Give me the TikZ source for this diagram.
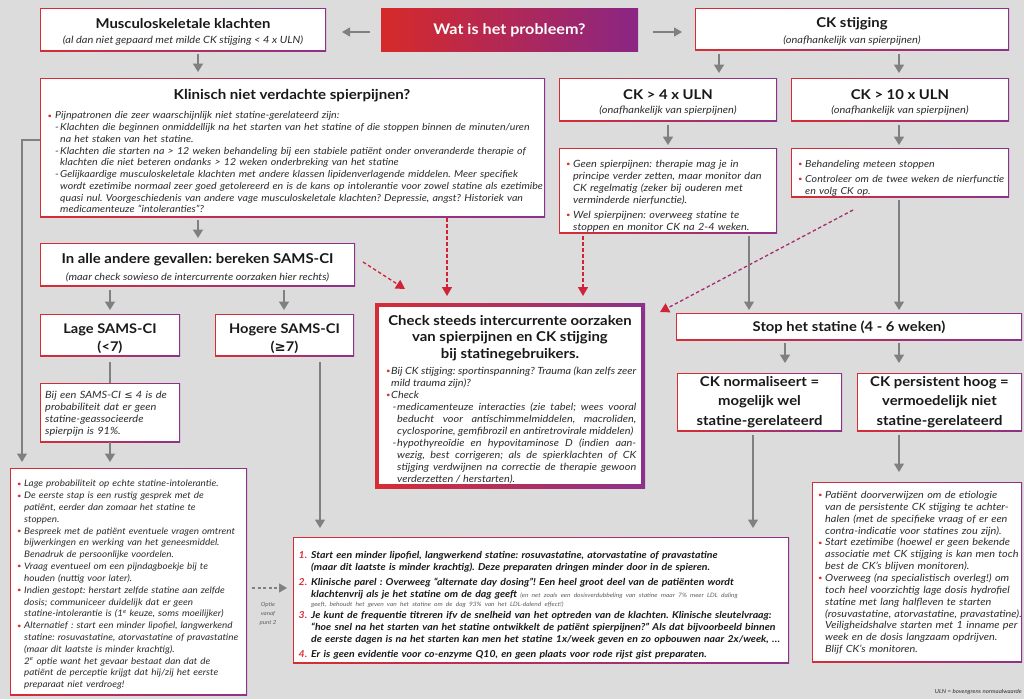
\documentclass[tikz,border=0pt]{standalone}
\usepackage{fontspec}
\setmainfont{Lato}[FakeStretch=1.1]
\newfontfamily\symf{DejaVu Sans}
\usetikzlibrary{arrows.meta,calc}
\frenchspacing
\definecolor{bgc}{RGB}{220,220,220}
\definecolor{cR}{RGB}{214,45,52}
\definecolor{cP}{RGB}{140,50,140}
\definecolor{tR}{RGB}{214,42,42}
\definecolor{tP}{RGB}{138,38,132}
\definecolor{ag}{RGB}{128,128,128}
\definecolor{txt}{RGB}{25,25,25}
\definecolor{itx}{RGB}{45,45,45}
\definecolor{dred}{RGB}{208,35,55}
\definecolor{dpur}{RGB}{165,45,110}
\definecolor{bred}{RGB}{215,50,55}
\definecolor{smallg}{RGB}{95,95,95}
\newcommand\mkbox[5]{\node[bx, minimum width={(#4-#2)*1pt}, minimum height={(#5-#3)*1pt}] (#1) at (#2,#3) {};}
\newcommand\gframe[2][1.4pt]{%
  \shade[left color=cR, right color=cP] (#2.north west) rectangle (#2.south east);
  \fill[white] ([shift={(#1,-#1)}]#2.north west) rectangle ([shift={(-#1,#1)}]#2.south east);}
\newcommand\bul{\textcolor{bred}{\raisebox{0.6pt}{\fontsize{7}{7}\selectfont\textbullet}}}
\newcommand\bit[2][7pt]{\par\hangindent=#1\hangafter=1\noindent\makebox[#1][l]{\bul}#2}
\newcommand\dit[3]{\par\hangindent=\dimexpr#1+#2\relax\hangafter=1\noindent\hspace*{#1}\makebox[#2][l]{-}#3}
\newcommand\nit[2]{\par\hangindent=12.5pt\hangafter=1\noindent\makebox[12.5pt][l]{\textcolor{bred}{#1}}#2}
\newcommand\psk[1]{\setlength\parskip{#1}}
\tikzset{
  bx/.style={anchor=north west, inner sep=0pt, outer sep=0pt},
  hd/.style={font=\bfseries\fontsize{13.5}{16}\selectfont, text=txt, inner sep=0pt},
  sub/.style={font=\itshape\fontsize{10}{12}\selectfont, text=itx, inner sep=0pt},
  body/.style={anchor=north west, inner sep=0pt, text=itx},
  garrow/.style={draw=ag, line width=1.8pt, -{Triangle[length=8.5pt,width=10pt]}},
  harrow/.style={draw=ag, line width=1.3pt, -{Triangle[length=8pt,width=9pt]}},
  larrow/.style={draw=ag, line width=1.3pt, -{Triangle[length=8.5pt,width=10pt]}},
  gline/.style={draw=ag, line width=1.4pt},
  rdash/.style={draw=dred, line width=1.3pt, dash pattern=on 3.5pt off 2.5pt, -{Triangle[length=9pt,width=10pt]}},
  pdash/.style={draw=dpur, line width=1.3pt, dash pattern=on 3.5pt off 2.5pt, -{Triangle[length=9pt,width=10pt,color=dred]}},
  gdash/.style={draw=ag, line width=1.2pt, dash pattern=on 3pt off 2.5pt, -{Triangle[length=8pt,width=9pt]}},
}
\begin{document}
\frenchspacing
\begin{tikzpicture}[x=1pt,y=-1pt]
\useasboundingbox (0,0) rectangle (1024,699);
% ---------- boxes (named, invisible) ----------
\mkbox{mus}{40}{8}{326}{51}
\mkbox{wat}{381}{8}{638}{51}
\mkbox{ckst}{695}{8}{1009}{50}
\mkbox{ckf}{559}{78}{777}{121}
\mkbox{ckt}{791}{78}{1009}{121}
\mkbox{ckft}{559}{148}{777}{233}
\mkbox{cktt}{791}{148}{1009}{197}
\mkbox{klin}{40}{78}{545}{217}
\mkbox{alle}{40}{243}{355}{286}
\mkbox{lage}{40}{314}{180}{356}
\mkbox{hog}{215}{314}{354}{356}
\mkbox{bij}{40}{383}{180}{442}
\mkbox{chk}{375}{303}{645}{488}
\mkbox{stop}{676}{313}{1022}{340}
\mkbox{norm}{677}{373}{842}{431}
\mkbox{pers}{857}{373}{1022}{431}
\mkbox{ll}{10}{468}{247}{695}
\mkbox{num}{293}{537}{789}{663}
\mkbox{br}{812}{482}{1022}{662}
% ---------- background and frames ----------
\fill[bgc] (0,0) rectangle (1024,699);
\foreach \nm in {mus,ckst,ckf,ckt,ckft,cktt,klin,alle,lage,hog,bij,stop,norm,pers,ll,num,br} {\gframe{\nm}}
\gframe[3.6pt]{chk}
\shade[left color=tR, right color=tP] (wat.north west) rectangle (wat.south east);
% ---------- texts ----------
\node[hd] (musH) at (183,24) {Musculoskeletale klachten};
\node[sub] (musS) at (183,41) {(al dan niet gepaard met milde CK stijging < 4 x ULN)};
\node[hd, font=\bfseries\fontsize{14.7}{17}\selectfont, text=white] (watH) at (509.5,30) {Wat is het probleem?};
\node[hd] (ckstH) at (852,24) {CK stijging};
\node[sub] (ckstS) at (852,41) {(onafhankelijk van spierpijnen)};
\node[hd] (ckfH) at (668,95) {CK > 4 x ULN};
\node[sub] (ckfS) at (668,111) {(onafhankelijk van spierpijnen)};
\node[hd] (cktH) at (900,95) {CK > 10 x ULN};
\node[sub] (cktS) at (900,111) {(onafhankelijk van spierpijnen)};
\node[body, text width=230pt, font=\itshape\fontsize{9.95}{12}\selectfont] (ckftB) at (566,155.3) {%
\bit{Geen spierpijnen: therapie mag je in\newline principe verder zetten, maar monitor dan\newline CK regelmatig (zeker bij ouderen met\newline verminderde nierfunctie).}\psk{3pt}
\bit{Wel spierpijnen: overweeg statine te\newline stoppen en monitor CK na 2-4 weken.}\par};
\node[body, text width=230pt, font=\itshape\fontsize{9.7}{12}\selectfont] (cktB) at (798,155.3) {%
\bit{Behandeling meteen stoppen}\psk{3pt}
\bit{Controleer om de twee weken de nierfunctie\newline en volg CK op.}\par};
\node[hd, font=\bfseries\fontsize{13.7}{16}\selectfont] (klinH) at (292,96) {Klinisch niet verdachte spierpijnen?};
\node[body, text width=540pt, font=\itshape\fontsize{9.65}{11.75}\selectfont] (klinB) at (47.5,106.8) {%
\bit[7.5pt]{Pijnpatronen die zeer waarschijnlijk niet statine-gerelateerd zijn:}
\dit{7.5pt}{5pt}{Klachten die beginnen onmiddellijk na het starten van het statine of die stoppen binnen de minuten/uren\newline na het staken van het statine.}
\dit{7.5pt}{5pt}{Klachten die starten na > 12 weken behandeling bij een stabiele patiënt onder onveranderde therapie of\newline klachten die niet beteren ondanks > 12 weken onderbreking van het statine}
\dit{7.5pt}{5pt}{Gelijkaardige musculoskeletale klachten met andere klassen lipidenverlagende middelen. Meer specifiek\newline wordt ezetimibe normaal zeer goed getolereerd en is de kans op intolerantie voor zowel statine als ezetimibe\newline quasi nul. Voorgeschiedenis van andere vage musculoskeletale klachten? Depressie, angst? Historiek van\newline medicamenteuze “intoleranties”?}\par};
\node[hd, font=\bfseries\fontsize{13.55}{16}\selectfont] (alleH) at (197.5,260) {In alle andere gevallen: bereken SAMS-CI};
\node[sub, font=\itshape\fontsize{9.9}{12}\selectfont] (alleS) at (197.5,277) {(maar check sowieso de intercurrente oorzaken hier rechts)};
\node[hd, align=center, font=\bfseries\fontsize{13.3}{18}\selectfont] (lageH) at (110,339) {Lage SAMS-CI\\(<7)};
\node[hd, align=center, font=\bfseries\fontsize{13.3}{18}\selectfont] (hogH) at (284.5,339) {Hogere SAMS-CI\\({\symf\bfseries ≥}7)};
\node[body, text width=160pt, font=\itshape\fontsize{10}{12}\selectfont] (bijB) at (45,391.3) {Bij een SAMS-CI {\symf\itshape ≤} 4 is de\newline probabiliteit dat er geen\newline statine-geassocieerde\newline spierpijn is 91\%.\par};
\node[align=center, text=txt, inner sep=0pt, font=\bfseries\fontsize{13.55}{16.5}\selectfont] (chkH) at (510,338) {Check steeds intercurrente oorzaken\\van spierpijnen en CK stijging\\bij statinegebruikers.};
\node[body, text width=250pt, align=justify, font=\itshape\fontsize{9.9}{12.05}\selectfont] (chkB) at (386,361.8) {%
\bit[5pt]{Bij CK stijging: sportinspanning? Trauma (kan zelfs zeer\linebreak mild trauma zijn)?}
\bit[5pt]{Check}
\dit{6.5pt}{4.5pt}{medicamenteuze interacties (zie tabel; wees vooral\linebreak beducht voor antischimmelmiddelen, macroliden,\linebreak cyclosporine, gemfibrozil en antiretrovirale middelen)}
\dit{6.5pt}{4.5pt}{hypothyreoïdie en hypovitaminose D (indien aan-\linebreak wezig, best corrigeren; als de spierklachten of CK\linebreak stijging verdwijnen na correctie de therapie gewoon\linebreak verderzetten / herstarten).}\par};
\node[hd, font=\bfseries\fontsize{13.45}{16}\selectfont] (stopH) at (849,327) {Stop het statine (4 - 6 weken)};
\node[hd, align=center, font=\bfseries\fontsize{13.5}{19.5}\selectfont] (normH) at (759.5,402) {CK normaliseert =\\mogelijk wel\\statine-gerelateerd};
\node[hd, align=center, font=\bfseries\fontsize{13.5}{19.5}\selectfont] (persH) at (939.5,402) {CK persistent hoog =\\vermoedelijk niet\\statine-gerelateerd};
\node[body, text width=250pt, font=\itshape\fontsize{9}{11.82}\selectfont] (llB) at (17,474.8) {%
\bit{Lage probabiliteit op echte statine-intolerantie.}
\bit{De eerste stap is een rustig gesprek met de\newline patiënt, eerder dan zomaar het statine te\newline stoppen.}
\bit{Bespreek met de patiënt eventuele vragen omtrent\newline bijwerkingen en werking van het geneesmiddel.\newline Benadruk de persoonlijke voordelen.}
\bit{Vraag eventueel om een pijndagboekje bij te\newline houden (nuttig voor later).}
\bit{Indien gestopt: herstart zelfde statine aan zelfde\newline dosis; communiceer duidelijk dat er geen\newline statine-intolerantie is (1\textsuperscript{e} keuze, soms moeilijker)}
\bit{Alternatief : start een minder lipofiel, langwerkend\newline statine: rosuvastatine, atorvastatine of pravastatine\newline (maar dit laatste is minder krachtig).\newline 2\textsuperscript{e} optie want het gevaar bestaat dan dat de\newline patiënt de perceptie krijgt dat hij/zij het eerste\newline preparaat niet verdroeg!}\par};
\node[align=center, inner sep=0pt, text=smallg, font=\itshape\fontsize{5.6}{8.8}\selectfont] (optT) at (268,614) {Optie\\vanaf\\punt 2};
\node[body, text width=520pt, font=\bfseries\itshape\fontsize{9.55}{11.8}\selectfont, text=txt] (numB) at (298.5,546.5) {%
\nit{1.}{Start een minder lipofiel, langwerkend statine: rosuvastatine, atorvastatine of pravastatine\newline (maar dit laatste is minder krachtig). Deze preparaten dringen minder door in de spieren.}\psk{3.2pt}
\nit{2.}{Klinische parel : Overweeg “alternate day dosing”! Een heel groot deel van de patiënten wordt\newline klachtenvrij als je het statine om de dag geeft {\mdseries\itshape\fontsize{6}{7}\selectfont\color{smallg}(en net zoals een dosisverdubbeling van statine maar 7\% meer LDL daling}\vspace{-2.5pt}\newline {\mdseries\itshape\fontsize{6}{7}\selectfont\color{smallg}geeft, behoudt het geven van het statine om de dag 93\% van het LDL-dalend effect!)}\vspace{-3pt}}
\nit{3.}{Je kunt de frequentie titreren ifv de snelheid van het optreden van de klachten. Klinische sleutelvraag:\newline “hoe snel na het starten van het statine ontwikkelt de patiënt spierpijnen?” Als dat bijvoorbeeld binnen\newline de eerste dagen is na het starten kan men het statine 1x/week geven en zo opbouwen naar 2x/week, …}
\nit{4.}{Er is geen evidentie voor co-enzyme Q10, en geen plaats voor rode rijst gist preparaten.}\par};
\node[body, text width=230pt, font=\itshape\fontsize{9.9}{11.85}\selectfont] (brB) at (818,486.5) {%
\bit{Patiënt doorverwijzen om de etiologie\newline van de persistente CK stijging te achter-\newline halen (met de specifieke vraag of er een\newline contra-indicatie voor statines zou zijn).}
\bit{Start ezetimibe (hoewel er geen bekende\newline associatie met CK stijging is kan men toch\newline best de CK’s blijven monitoren).}
\bit{Overweeg (na specialistisch overleg!) om\newline toch heel voorzichtig lage dosis hydrofiel\newline statine met lang halfleven te starten\newline (rosuvastatine, atorvastatine, pravastatine).\newline Veiligheidshalve starten met 1 inname per\newline week en de dosis langzaam opdrijven.\newline Blijf CK’s monitoren.}\par};
\node[anchor=east, inner sep=0pt, text=itx, font=\itshape\fontsize{5.5}{6}\selectfont] (fnT) at (1022,692) {ULN = bovengrens normaalwaarde};
% ---------- helper coordinates ----------
\coordinate (yA) at (0,32);
\coordinate (x198) at (198,0);
\coordinate (x719) at (719,0);
\coordinate (x899) at (899,0);
\coordinate (x668) at (668,0);
\coordinate (x110) at (110,0);
\coordinate (x284) at (284,0);
\coordinate (x320) at (320,0);
\coordinate (x447) at (447,0);
\coordinate (x583) at (583,0);
\coordinate (x749) at (749,0);
\coordinate (x785) at (785,0);
\coordinate (x753) at (753,0);
\coordinate (x22) at (22,0);
\coordinate (y140) at (0,140);
\coordinate (y588) at (0,588);
\coordinate (dA) at (405,289);
\coordinate (dB) at (660,312);
% ---------- connectors ----------
\draw[harrow, shorten <=11pt, shorten >=16pt] (wat.west |- yA) -- (mus.east |- yA);
\draw[harrow, shorten <=15pt, shorten >=13pt] (wat.east |- yA) -- (ckst.west |- yA);
\draw[garrow, shorten <=3pt, shorten >=6pt] (mus.south -| x198) -- (klin.north -| x198);
\draw[garrow, shorten <=4pt, shorten >=5pt] (ckst.south -| x719) -- (ckf.north -| x719);
\draw[garrow, shorten <=4pt, shorten >=5pt] (ckst.south -| x899) -- (ckt.north -| x899);
\draw[garrow, shorten <=4pt, shorten >=3pt] (ckf.south -| x668) -- (ckft.north -| x668);
\draw[garrow, shorten <=4pt, shorten >=3pt] (ckt.south -| x899) -- (cktt.north -| x899);
\draw[garrow, shorten <=3pt, shorten >=5pt] (klin.south -| x198) -- (alle.north -| x198);
\draw[garrow, shorten <=4pt, shorten >=4pt] (alle.south -| x110) -- (lage.north -| x110);
\draw[garrow, shorten <=4pt, shorten >=4pt] (alle.south -| x284) -- (hog.north -| x284);
\draw[gline, shorten <=6pt] (lage.south -| x110) -- (bij.north -| x110);
\draw[garrow, shorten >=6pt] (bij.south -| x110) -- (ll.north -| x110);
\draw[larrow, shorten <=6pt, shorten >=9pt] (hog.south -| x320) -- (num.north -| x320);
\draw[larrow, line width=1.1pt, shorten >=6pt] (klin.west |- y140) -- (x22 |- y140) -- (ll.north -| x22);
\draw[gdash, shorten <=5pt, shorten >=6pt] (ll.east |- y588) -- (num.west |- y588);
\draw[rdash, shorten <=1pt, shorten >=7pt] (klin.south -| x447) -- (chk.north -| x447);
\draw[rdash, shorten <=3pt, shorten >=7pt] (ckft.south -| x583) -- (chk.north -| x583);
\draw[rdash] ([shift={(8pt,2.5pt)}]alle.east) -- (dA);
\draw[pdash] ([shift={(-47pt,-13pt)}]cktt.south) -- (dB);
\draw[larrow, shorten <=3pt, shorten >=3pt] (ckft.south -| x749) -- (stop.north -| x749);
\draw[larrow, shorten <=3pt, shorten >=3pt] (cktt.south -| x899) -- (stop.north -| x899);
\draw[garrow, shorten <=3pt, shorten >=10pt] (stop.south -| x785) -- (norm.north -| x785);
\draw[garrow, shorten <=3pt, shorten >=10pt] (stop.south -| x899) -- (pers.north -| x899);
\draw[larrow, shorten <=4pt, shorten >=9pt] (norm.south -| x753) -- (num.north -| x753);
\draw[larrow, shorten <=4pt, shorten >=10pt] (pers.south -| x899) -- (br.north -| x899);
\end{tikzpicture}
\end{document}
